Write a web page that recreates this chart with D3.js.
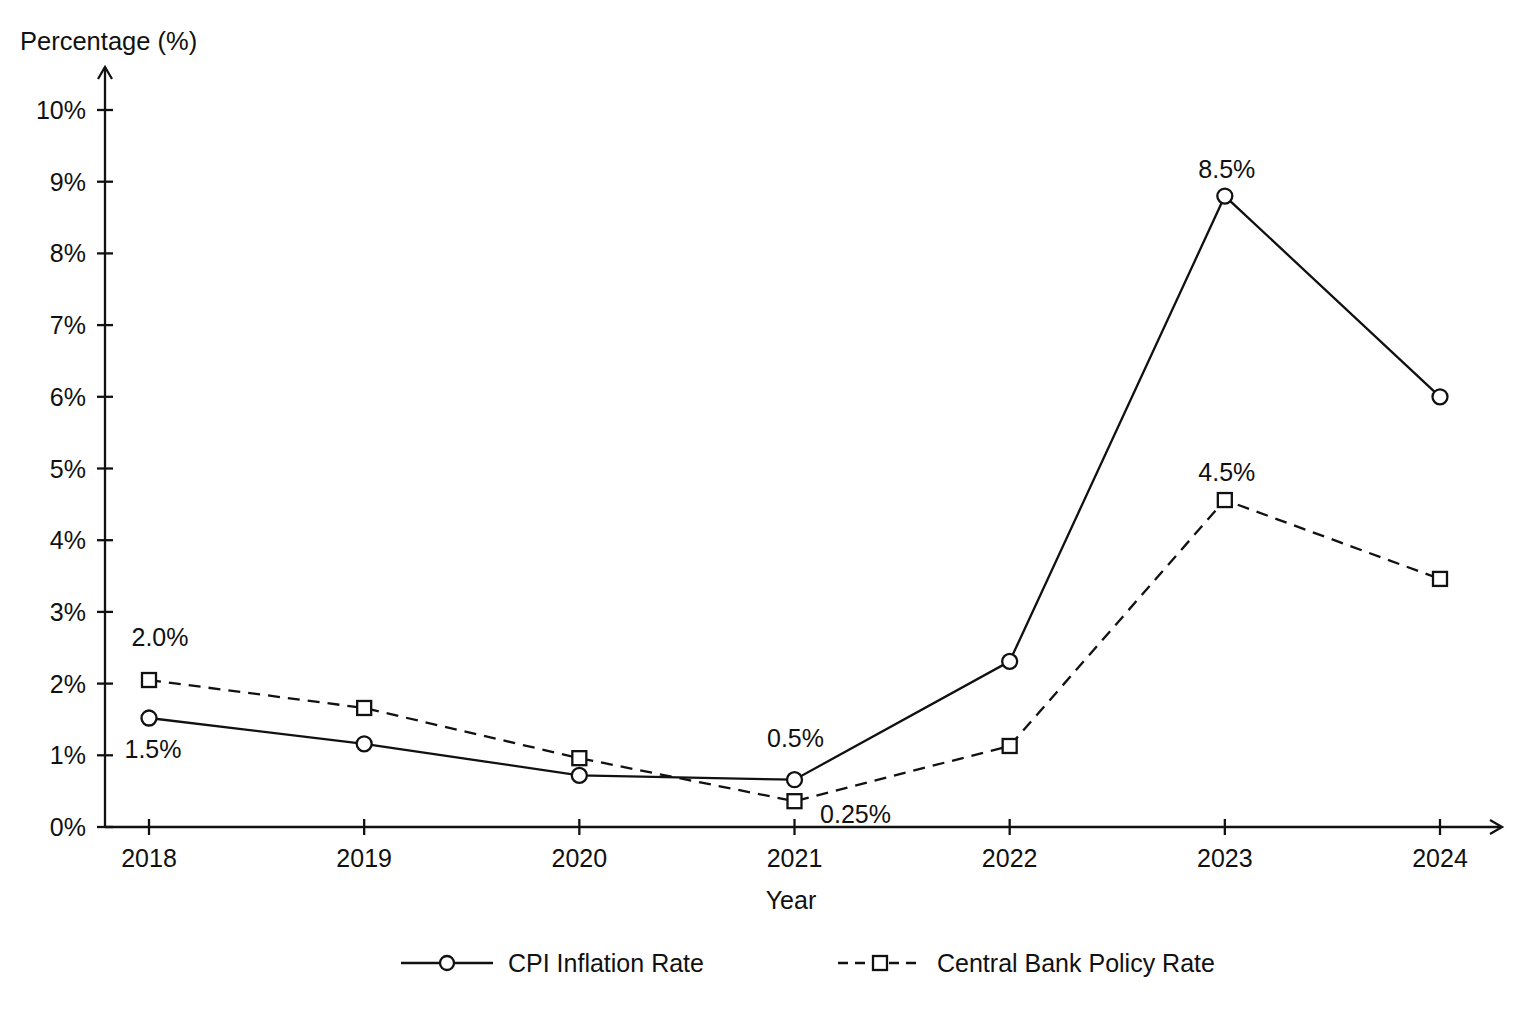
<!DOCTYPE html>
<html><head><meta charset="utf-8">
<script src="https://cdn.jsdelivr.net/npm/d3@7"></script>
<style>body{margin:0;background:#fff;} svg{display:block;} text{font-family:"Liberation Sans",Arial,sans-serif;fill:#111;}</style>
</head><body>
<script>
const years = [2018, 2019, 2020, 2021, 2022, 2023, 2024];
const cpiValues = [1.52, 1.16, 0.72, 0.66, 2.31, 8.8, 6.0];
const policyValues = [2.05, 1.66, 0.96, 0.36, 1.13, 4.56, 3.46];
const yTicks = [0,1,2,3,4,5,6,7,8,9,10];
const cpiLabels = [{year:2018, text:"1.5%", dx:4, dy:31}, {year:2021, text:"0.5%", dx:1, dy:-42}, {year:2023, text:"8.5%", dx:2, dy:-27}];
const policyLabels = [{year:2018, text:"2.0%", dx:11, dy:-43}, {year:2021, text:"0.25%", dx:61, dy:13}, {year:2023, text:"4.5%", dx:2, dy:-28}];
const seriesNames = ["CPI Inflation Rate", "Central Bank Policy Rate"];

const W = 1536, H = 1024;
const svg = d3.select("body").append("svg").attr("width", W).attr("height", H);
const x = d3.scaleLinear().domain([2018, 2024]).range([149, 1440]);
const y = d3.scaleLinear().domain([0, 10]).range([827, 110]);
const axisX0 = 105;
const SW = 2.3;

// axes lines with arrows
svg.append("line").attr("x1", axisX0).attr("x2", 1501).attr("y1", y(0)).attr("y2", y(0)).attr("stroke","#111").attr("stroke-width",SW);
svg.append("path").attr("d", `M${1490},${y(0)-7} L${1502},${y(0)} L${1490},${y(0)+7}`).attr("fill","none").attr("stroke","#111").attr("stroke-width",SW);
svg.append("line").attr("x1", axisX0).attr("x2", axisX0).attr("y1", y(0)).attr("y2", 67).attr("stroke","#111").attr("stroke-width",SW);
svg.append("path").attr("d", `M${axisX0-7},${79} L${axisX0},${67} L${axisX0+7},${79}`).attr("fill","none").attr("stroke","#111").attr("stroke-width",SW);

// y ticks
const yt = svg.append("g");
yTicks.forEach(t => {
  yt.append("line").attr("x1", axisX0-8).attr("x2", axisX0+8).attr("y1", y(t)).attr("y2", y(t)).attr("stroke","#111").attr("stroke-width",SW);
  yt.append("text").attr("x", 86).attr("y", y(t)).attr("dy","0.36em").attr("text-anchor","end").attr("font-size",25).text(t + "%");
});
// x ticks
const xt = svg.append("g");
years.forEach(t => {
  xt.append("line").attr("x1", x(t)).attr("x2", x(t)).attr("y1", y(0)-8).attr("y2", y(0)+8).attr("stroke","#111").attr("stroke-width",SW);
  xt.append("text").attr("x", x(t)).attr("y", 867).attr("text-anchor","middle").attr("font-size",25).text(t);
});

svg.append("text").attr("x", 20).attr("y", 50).attr("font-size",25.5).text("Percentage (%)");
svg.append("text").attr("x", 791).attr("y", 909).attr("text-anchor","middle").attr("font-size",25).text("Year");

const line = d3.line().x(d => x(d[0])).y(d => y(d[1]));
const cpi = years.map((yr,i) => [yr, cpiValues[i]]);
const pol = years.map((yr,i) => [yr, policyValues[i]]);

svg.append("path").datum(pol).attr("d", line).attr("fill","none").attr("stroke","#111").attr("stroke-width",SW).attr("stroke-dasharray","12,8");
svg.append("path").datum(cpi).attr("d", line).attr("fill","none").attr("stroke","#111").attr("stroke-width",SW);

svg.selectAll("rect.pm").data(pol).enter().append("rect").attr("class","pm")
  .attr("x", d => x(d[0]) - 7).attr("y", d => y(d[1]) - 7).attr("width",14).attr("height",14)
  .attr("fill","#fff").attr("stroke","#111").attr("stroke-width",SW);
svg.selectAll("circle.cm").data(cpi).enter().append("circle").attr("class","cm")
  .attr("cx", d => x(d[0])).attr("cy", d => y(d[1])).attr("r",7.5)
  .attr("fill","#fff").attr("stroke","#111").attr("stroke-width",SW);

function addLabels(labels, vals) {
  labels.forEach(l => {
    const i = years.indexOf(l.year);
    svg.append("text").attr("x", x(l.year) + l.dx).attr("y", y(vals[i]) + l.dy).attr("dy","0.36em")
      .attr("text-anchor","middle").attr("font-size",25).text(l.text);
  });
}
addLabels(cpiLabels, cpiValues);
addLabels(policyLabels, policyValues);

// legend
const ly = 963;
const lg = svg.append("g");
lg.append("line").attr("x1",401).attr("x2",493).attr("y1",ly).attr("y2",ly).attr("stroke","#111").attr("stroke-width",SW);
lg.append("circle").attr("cx",447).attr("cy",ly).attr("r",7).attr("fill","#fff").attr("stroke","#111").attr("stroke-width",SW);
lg.append("text").attr("x",508).attr("y",ly).attr("dy","0.36em").attr("font-size",25).text(seriesNames[0]);
lg.append("line").attr("x1",838).attr("x2",922).attr("y1",ly).attr("y2",ly).attr("stroke","#111").attr("stroke-width",SW).attr("stroke-dasharray","10,7");
lg.append("rect").attr("x",873).attr("y",ly-7).attr("width",14).attr("height",14).attr("fill","#fff").attr("stroke","#111").attr("stroke-width",SW);
lg.append("text").attr("x",937).attr("y",ly).attr("dy","0.36em").attr("font-size",25).text(seriesNames[1]);
</script>
</body></html>
